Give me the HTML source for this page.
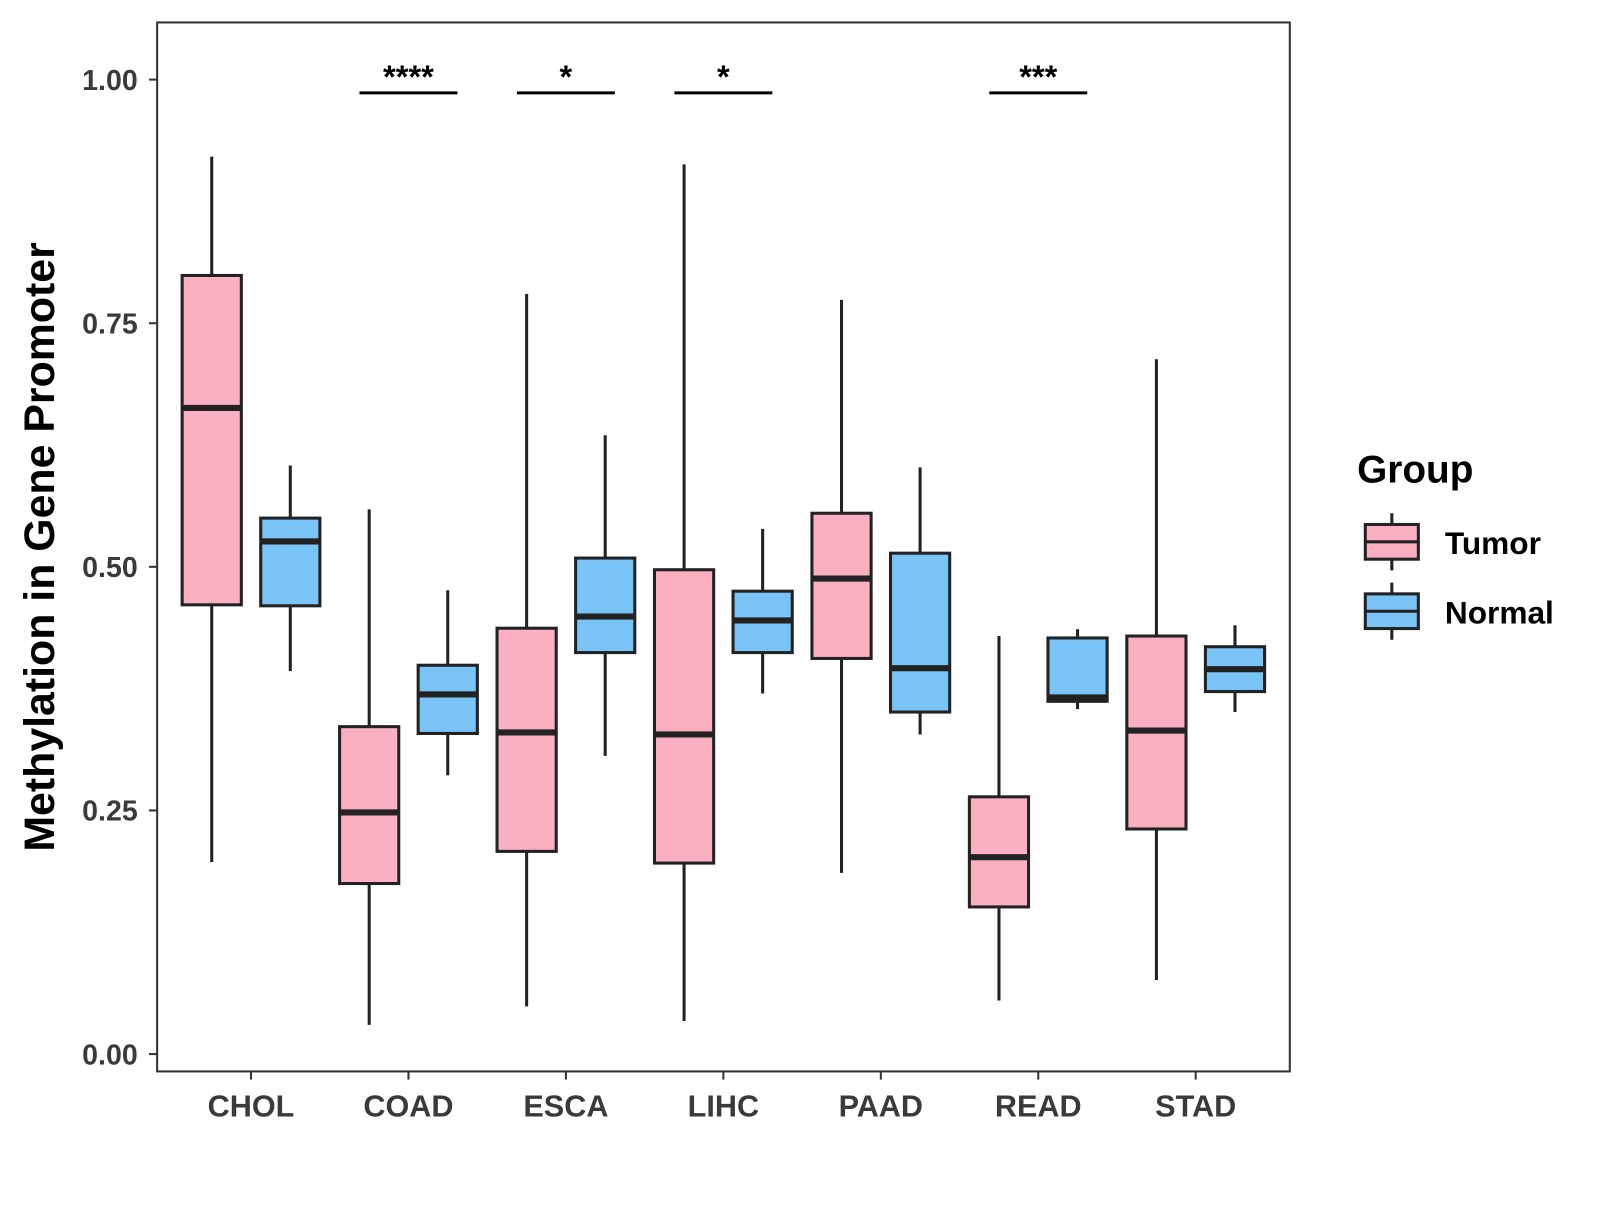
<!DOCTYPE html>
<html><head><meta charset="utf-8"><style>
body{margin:0;background:#fff;}
svg text{font-family:"Liberation Sans",Arial,sans-serif;font-weight:bold;}
</style></head><body>
<svg id="chart" width="1600" height="1200" xmlns="http://www.w3.org/2000/svg">
<g transform="scale(1.0204)">
<rect x="154" y="22" width="1110" height="1028" fill="#fff" stroke="#333" stroke-width="2"/>
<g id="marks"></g>
<text transform="translate(53,536) rotate(-90)" text-anchor="middle" font-size="42" fill="#000">Methylation in Gene Promoter</text>
<g>
<text x="1330" y="473" font-size="38" fill="#000">Group</text>
<g>
<line x1="1364" y1="503" x2="1364" y2="559" stroke="#222" stroke-width="3"/>
<rect x="1338" y="514" width="52" height="34" fill="#FBB0C2" stroke="#222" stroke-width="3"/>
<line x1="1338" y1="531" x2="1390" y2="531" stroke="#222" stroke-width="3"/>
<text x="1416" y="543" font-size="31" fill="#000">Tumor</text></g>
<g>
<line x1="1364" y1="571" x2="1364" y2="627" stroke="#222" stroke-width="3"/>
<rect x="1338" y="582" width="52" height="34" fill="#79C3F7" stroke="#222" stroke-width="3"/>
<line x1="1338" y1="599" x2="1390" y2="599" stroke="#222" stroke-width="3"/>
<text x="1416" y="611" font-size="31" fill="#000">Normal</text></g>
</g>
</g>
</svg>
<script>
const categories=["CHOL","COAD","ESCA","LIHC","PAAD","READ","STAD"];
const tumorLow=[0.197,0.030,0.049,0.034,0.186,0.055,0.076];
const tumorQ1=[0.461,0.175,0.208,0.196,0.406,0.151,0.231];
const tumorMed=[0.663,0.248,0.330,0.328,0.488,0.202,0.332];
const tumorQ3=[0.799,0.336,0.437,0.497,0.555,0.264,0.429];
const tumorHigh=[0.921,0.559,0.780,0.913,0.774,0.429,0.713];
const normalLow=[0.393,0.286,0.306,0.370,0.328,0.354,0.351];
const normalQ1=[0.460,0.329,0.412,0.412,0.351,0.362,0.372];
const normalMed=[0.526,0.369,0.449,0.445,0.396,0.366,0.395];
const normalQ3=[0.550,0.399,0.509,0.475,0.514,0.427,0.418];
const normalHigh=[0.604,0.476,0.635,0.539,0.602,0.436,0.440];
const significance=["","****","*","*","","***",""];
const yTicks=[0,0.25,0.5,0.75,1.0];
const yTickLabels=["0.00","0.25","0.50","0.75","1.00"];

const NS="http://www.w3.org/2000/svg";
const g=document.getElementById('marks');
const yS=v=>1033-v*955;
const xS=i=>246+i*154.3;
function mk(tag,attrs,parent){const e=document.createElementNS(NS,tag);for(const k in attrs)e.setAttribute(k,attrs[k]);(parent||g).appendChild(e);return e;}

yTicks.forEach((v,i)=>{
  const t=mk('line',{x1:146,x2:154,y1:yS(v),y2:yS(v),stroke:'#333','stroke-width':2});
  
  
  const l=mk('text',{x:135,y:yS(v)+10,'text-anchor':'end','font-size':28,fill:'#3a3a3a'});
  l.textContent=yTickLabels[i];
  
  
});
categories.forEach((c,i)=>{
  const x=xS(i);
  const t=mk('line',{x1:x,x2:x,y1:1050,y2:1058,stroke:'#333','stroke-width':2});
  
  
  const l=mk('text',{x:x,y:1094,'text-anchor':'middle','font-size':30,fill:'#3a3a3a'});
  l.textContent=c;
  
  
  function box(cx,lo,q1,md,q3,hi,fill,name){
    const grp=mk('g',{});
    
    
    mk('line',{x1:cx,x2:cx,y1:yS(hi),y2:yS(lo),stroke:'#222','stroke-width':3},grp);
    mk('rect',{x:cx-29,y:yS(q3),width:58,height:yS(q1)-yS(q3),fill:fill,stroke:'#222','stroke-width':3},grp);
    mk('line',{x1:cx-29,x2:cx+29,y1:yS(md),y2:yS(md),stroke:'#222','stroke-width':6},grp);
  }
  box(x-38.5,tumorLow[i],tumorQ1[i],tumorMed[i],tumorQ3[i],tumorHigh[i],'#FBB0C2','box-tumor-'+c.toLowerCase());
  box(x+38.5,normalLow[i],normalQ1[i],normalMed[i],normalQ3[i],normalHigh[i],'#79C3F7','box-normal-'+c.toLowerCase());
  if(significance[i]){
    const b=mk('line',{x1:x-48,x2:x+48,y1:91,y2:91,stroke:'#000','stroke-width':3});
    
    
    const s=mk('text',{x:x,y:86,'text-anchor':'middle','font-size':32,fill:'#000'});
    s.textContent=significance[i];
    
    
  }
});
</script>
</body></html>
